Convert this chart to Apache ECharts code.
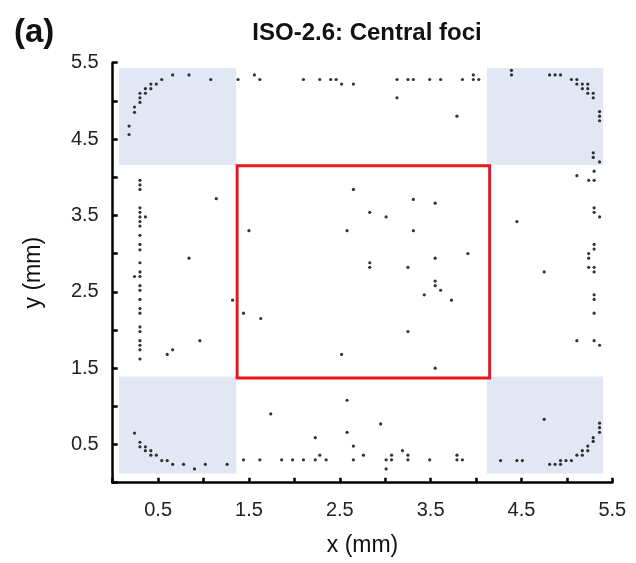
<!DOCTYPE html>
<html>
<head>
<meta charset="utf-8">
<script src="https://cdn.jsdelivr.net/npm/echarts@6.0.0/dist/echarts.min.js"></script>
<style>
  html, body { margin: 0; padding: 0; background: #fff; }
  #chart { width: 636px; height: 563px; }
</style>
</head>
<body>
<div id="chart"></div>
<script>
// axis ticks / labels
var tickLabels = ['0.5', '1.5', '2.5', '3.5', '4.5', '5.5'];

// shaded corner squares and the central box (mm)
var shadeX = [[0.07, 1.36], [4.12, 5.40]];
var shadeY = [[0.12, 1.39], [4.16, 5.43]];
var boxX = [1.37, 4.15];
var boxY = [1.37, 4.15];

// foci positions (mm), grouped by where they sit
var cornerTL = [[0.66,5.34],[0.84,5.34],[1.08,5.28],[0.54,5.28],[0.48,5.22],[0.42,5.22],[0.42,5.16],[0.36,5.16],
    [0.36,5.10],[0.30,5.10],[0.30,5.04],[0.30,4.98],[0.24,4.92],[0.24,4.85],[0.18,4.67],[0.18,4.56]];
var edgeTop = [[1.38,5.28],[1.56,5.34],[1.62,5.28],[2.10,5.28],[2.28,5.28],[2.40,5.28],[2.46,5.28],[2.52,5.22],
    [2.65,5.22],[3.13,5.28],[3.25,5.28],[3.31,5.28],[3.49,5.28],[3.61,5.28],[3.85,5.28],[3.97,5.34],[3.97,5.28],
    [4.03,5.28],[3.13,5.04],[3.79,4.80]];
var cornerTR = [[4.39,5.40],[4.39,5.34],[4.81,5.34],[4.87,5.34],[4.93,5.34],[5.05,5.28],[5.11,5.28],[5.11,5.22],
    [5.17,5.22],[5.23,5.22],[5.17,5.16],[5.23,5.16],[5.23,5.10],[5.29,5.10],[5.29,5.04],[5.36,4.86],[5.36,4.80],
    [5.36,4.74],[5.29,4.32],[5.29,4.26],[5.36,4.20]];
var edgeRight = [[5.30,4.08],[5.11,4.02],[5.24,3.96],[5.30,3.96],[5.30,3.60],[5.30,3.54],[5.36,3.48],[4.45,3.42],
    [5.30,3.12],[5.30,3.06],[5.24,3.00],[5.24,2.94],[5.24,2.82],[5.30,2.82],[5.30,2.76],[4.75,2.76],[5.30,2.46],
    [5.30,2.40],[5.30,2.22],[5.11,1.86],[5.30,1.86],[5.36,1.80]];
var edgeLeft = [[0.30,3.96],[0.30,3.90],[0.30,3.84],[0.30,3.60],[0.30,3.54],[0.30,3.48],[0.30,3.42],[0.30,3.36],
    [0.30,3.24],[0.30,3.12],[0.30,3.05],[0.30,2.88],[0.30,2.76],[0.30,2.70],[0.30,2.58],[0.30,2.52],[0.30,2.40],
    [0.30,2.28],[0.30,2.22],[0.30,2.04],[0.30,1.98],[0.30,1.86],[0.30,1.80],[0.30,1.74],[0.30,1.62],
    [0.36,3.48],[0.24,2.70],[1.14,3.72],[0.84,2.94],[1.32,2.39],[0.96,1.86],[0.66,1.74],[0.60,1.68]];
var centre = [[2.65,3.84],[3.31,3.71],[3.55,3.66],[2.83,3.54],[3.01,3.48],[1.50,3.30],[2.58,3.30],[3.31,3.30],
    [3.91,3.00],[3.55,2.94],[2.83,2.88],[2.83,2.82],[3.25,2.82],[3.55,2.64],[3.55,2.58],[3.61,2.52],[3.43,2.46],
    [3.73,2.39],[1.44,2.22],[1.63,2.15],[3.25,1.98],[2.52,1.68],[3.55,1.50]];
var cornerBL = [[0.24,0.65],[0.30,0.53],[0.30,0.47],[0.36,0.47],[0.36,0.42],[0.42,0.42],[0.42,0.36],[0.48,0.36],
    [0.54,0.29],[0.60,0.29],[0.66,0.24],[0.78,0.24],[0.90,0.18],[1.02,0.24],[1.26,0.24]];
var edgeBottom = [[1.44,0.30],[1.62,0.30],[1.74,0.90],[1.86,0.30],[1.98,0.30],[2.10,0.30],[2.23,0.59],[2.23,0.30],
    [2.28,0.36],[2.35,0.30],[2.58,1.08],[2.58,0.66],[2.65,0.48],[2.65,0.30],[2.76,0.36],[2.95,0.77],[3.01,0.30],
    [3.01,0.18],[3.07,0.36],[3.07,0.30],[3.19,0.42],[3.25,0.36],[3.25,0.30],[3.49,0.30],[3.79,0.36],[3.79,0.30],
    [3.85,0.30]];
var cornerBR = [[4.27,0.29],[4.45,0.29],[4.51,0.29],[4.75,0.83],[4.81,0.24],[4.87,0.24],[4.93,0.24],[4.93,0.29],
    [4.99,0.29],[5.05,0.29],[5.11,0.36],[5.17,0.36],[5.17,0.42],[5.23,0.42],[5.23,0.48],[5.29,0.54],[5.29,0.59],
    [5.36,0.66],[5.36,0.72],[5.36,0.78]];

var allFoci = [].concat(cornerTL, edgeTop, cornerTR, edgeRight, edgeLeft, centre, cornerBL, edgeBottom, cornerBR);

function shadeAreas() {
    var arr = [];
    for (var i = 0; i < shadeX.length; i++) {
        for (var j = 0; j < shadeY.length; j++) {
            arr.push([{xAxis: shadeX[i][0], yAxis: shadeY[j][0]}, {xAxis: shadeX[i][1], yAxis: shadeY[j][1]}]);
        }
    }
    return arr;
}

function tickFormatter(v) {
    var s = v.toFixed(1);
    return tickLabels.indexOf(s) >= 0 ? s : '';
}

var FONT = 'Liberation Sans';

var axisCommon = {
    type: 'value',
    min: 0,
    max: 5.5,
    interval: 0.5,
    nameLocation: 'middle',
    nameTextStyle: {fontFamily: FONT, fontSize: 23, color: '#111'},
    axisLine: {show: true, lineStyle: {color: '#000', width: 2.5}},
    axisTick: {show: true, inside: true, length: 5, lineStyle: {color: '#000', width: 2.5}},
    axisLabel: {formatter: tickFormatter, fontFamily: FONT, fontSize: 20, color: '#222'},
    splitLine: {show: false}
};

var option = {
    animation: false,
    backgroundColor: '#fff',
    title: [
        {
            text: 'ISO-2.6: Central foci',
            left: 362, top: 16, textAlign: 'center',
            textStyle: {fontFamily: FONT, fontSize: 24, fontWeight: 'bold', color: '#111'}
        },
        {
            text: '{p|(}{b|a}{p|)}',
            left: 9, top: 11,
            textStyle: {
                rich: {
                    p: {fontFamily: FONT, fontSize: 33, color: '#111'},
                    b: {fontFamily: FONT, fontSize: 33, fontWeight: 'bold', color: '#111'}
                }
            }
        }
    ],
    grid: {left: 112.7, right: 23.7, top: 62.7, bottom: 80.3},
    xAxis: echarts.util.merge({name: 'x (mm)', nameGap: 51, axisLabel: {margin: 18}}, axisCommon, true),
    yAxis: echarts.util.merge({name: 'y (mm)', nameGap: 68, axisLabel: {margin: 14}}, axisCommon, true),
    series: [
        {
            type: 'scatter',
            data: [],
            z: 1,
            silent: true,
            markArea: {
                silent: true,
                itemStyle: {color: '#e1e7f3'},
                data: shadeAreas()
            }
        },
        {
            type: 'scatter',
            data: [],
            z: 2,
            silent: true,
            markArea: {
                silent: true,
                itemStyle: {color: 'rgba(0,0,0,0)', borderColor: '#e8181d', borderWidth: 3, borderRadius: 2},
                data: [[{xAxis: boxX[0], yAxis: boxY[0]}, {xAxis: boxX[1], yAxis: boxY[1]}]]
            }
        },
        {
            name: 'foci',
            type: 'scatter',
            z: 3,
            symbolSize: 3.2,
            itemStyle: {color: '#000'},
            data: allFoci
        }
    ]
};

var chart = echarts.init(document.getElementById('chart'));
chart.setOption(option);
</script>
</body>
</html>
